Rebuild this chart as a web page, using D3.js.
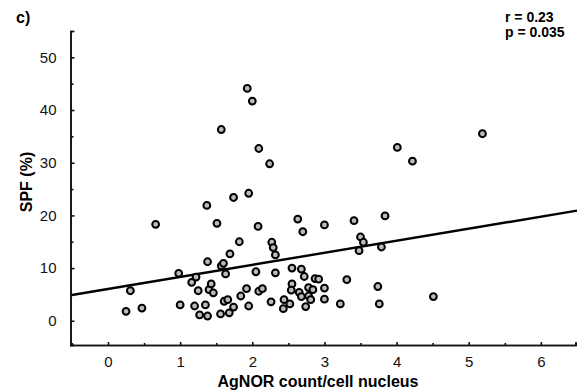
<!DOCTYPE html>
<html>
<head>
<meta charset="utf-8">
<script src="https://cdn.jsdelivr.net/npm/d3@7"></script>
<style>
body { margin: 0; background: #fff; }
text { font-family: "Liberation Sans", Arial, sans-serif; }
</style>
</head>
<body>
<div id="chart"></div>
<script>
// ------------------------------------------------------------------
// data
const agnor = [0.25, 0.31, 0.47, 0.66, 0.98, 1.00, 1.16, 1.20, 1.22, 1.25, 1.27, 1.35, 1.37, 1.38,
  1.40, 1.38, 1.43, 1.46, 1.51, 1.57, 1.56, 1.57, 1.60, 1.61, 1.63, 1.66, 1.68, 1.69, 1.74, 1.74,
  1.82, 1.84, 1.93, 1.92, 1.95, 1.95, 2.00, 2.05, 2.09, 2.08, 2.09, 2.14, 2.24, 2.26, 2.27, 2.29,
  2.32, 2.32, 2.43, 2.44, 2.52, 2.55, 2.55, 2.54, 2.63, 2.65, 2.68, 2.68, 2.70, 2.72, 2.74, 2.78,
  2.78, 2.81, 2.84, 2.87, 2.92, 3.00, 3.00, 3.00, 3.22, 3.31, 3.41, 3.48, 3.50, 3.54, 3.74, 3.76,
  3.79, 3.84, 4.01, 4.22, 4.51, 5.19]
const spf = [1.8, 5.7, 2.4, 18.3, 9.0, 3.0, 7.3, 2.8, 8.3, 5.7, 1.1, 3.0, 21.9, 11.2,
  5.9, 0.9, 7.0, 5.3, 18.5, 36.3, 1.3, 10.4, 10.9, 3.7, 8.9, 4.0, 1.5, 12.7, 23.4, 2.6,
  15.0, 4.7, 44.1, 6.1, 24.2, 2.8, 41.7, 9.3, 32.7, 17.9, 5.6, 6.1, 29.8, 3.6, 14.9, 13.9,
  12.5, 9.1, 2.3, 4.0, 3.2, 10.0, 7.0, 5.8, 19.3, 5.4, 4.6, 9.8, 16.9, 8.4, 2.7, 4.7,
  6.3, 4.0, 5.9, 8.0, 7.9, 18.2, 6.2, 4.1, 3.2, 7.8, 19.0, 13.3, 15.9, 14.9, 6.5, 3.2,
  14.0, 19.9, 32.9, 30.3, 4.6, 35.5]
const fit = [{x: -0.5, y: 4.9}, {x: 6.5, y: 20.9}]
const x_ticks = [0, 1, 2, 3, 4, 5, 6]
const x_minor = [-0.5, 0.5, 1.5, 2.5, 3.5, 4.5, 5.5]
const y_ticks = [0, 10, 20, 30, 40, 50]
const y_minor = [5, 15, 25, 35, 45]
const stats = ["r = 0.23", "p = 0.035"]

// ------------------------------------------------------------------
const width = 582
const height = 392
const plot = {left: 70.5, right: 575.5, top: 31, bottom: 345}

const svg = d3.select("#chart").append("svg")
    .attr("width", width)
    .attr("height", height)

const x = d3.scaleLinear().domain([-0.52, 6.48]).range([plot.left, plot.right])
const y = d3.scaleLinear().domain([-4.6, 55]).range([plot.bottom, plot.top])

// minor ticks first, then the labelled axes on top
svg.append("g")
    .attr("transform", "translate(0," + plot.bottom + ")")
    .call(d3.axisBottom(x).tickValues(x_minor).tickSize(-2).tickFormat(""))
svg.append("g")
    .attr("transform", "translate(" + plot.left + ",0)")
    .call(d3.axisLeft(y).tickValues(y_minor).tickSize(-3).tickFormat(""))

const xAxis = svg.append("g")
    .attr("transform", "translate(0," + plot.bottom + ")")
    .call(d3.axisBottom(x).tickValues(x_ticks).tickSize(-3).tickPadding(11).tickFormat(d3.format("d")))
const yAxis = svg.append("g")
    .attr("transform", "translate(" + plot.left + ",0)")
    .call(d3.axisLeft(y).tickValues(y_ticks).tickSize(-4).tickPadding(14).tickFormat(d3.format("d")))

svg.selectAll(".domain").attr("stroke", "#111").attr("stroke-width", 1.6)
svg.selectAll(".tick line").attr("stroke", "#111").attr("stroke-width", 1.6)
for (const g of [xAxis, yAxis]) {
  g.selectAll(".tick text").attr("font-size", 15).attr("fill", "#111")
    .style("font-family", "'Liberation Sans', Arial, sans-serif")
}

// regression line
svg.append("path")
    .datum(fit)
    .attr("fill", "none")
    .attr("stroke", "#000")
    .attr("stroke-width", 2.4)
    .attr("d", d3.line().x(d => x(d.x)).y(d => y(d.y)))

// points
svg.selectAll(".pt")
    .data(agnor.map((d, i) => ({x: d, y: spf[i]})))
  .enter().append("circle")
    .attr("class", "pt")
    .attr("cx", d => x(d.x))
    .attr("cy", d => y(d.y))
    .attr("r", 3.4)
    .attr("fill", "#bbb")
    .attr("stroke", "#000")
    .attr("stroke-width", 2)

// labels
svg.append("text")
    .attr("x", 16).attr("y", 23)
    .attr("font-size", 16).attr("font-weight", "bold")
    .text("c)")

svg.selectAll(".stat")
    .data(stats)
  .enter().append("text")
    .attr("class", "stat")
    .attr("x", 505)
    .attr("y", (d, i) => 22 + i * 15)
    .attr("font-size", 14).attr("font-weight", "bold")
    .text(d => d)

svg.append("text")
    .attr("transform", "translate(32,182) rotate(-90)")
    .attr("text-anchor", "middle")
    .attr("font-size", 16).attr("font-weight", "bold")
    .text("SPF (%)")

svg.append("text")
    .attr("x", 318).attr("y", 387)
    .attr("text-anchor", "middle")
    .attr("font-size", 16).attr("font-weight", "bold")
    .text("AgNOR count/cell nucleus")
</script>
</body>
</html>
